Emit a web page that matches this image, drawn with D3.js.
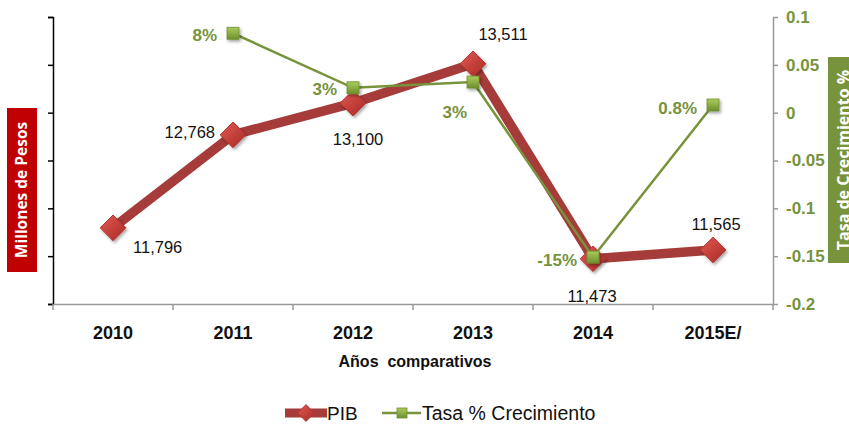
<!DOCTYPE html>
<html>
<head>
<meta charset="utf-8">
<script src="https://cdn.jsdelivr.net/npm/d3@7"></script>
<style>
  body { margin: 0; background: #fff; }
  svg { font-family: Arial, "Liberation Sans", sans-serif; }
</style>
</head>
<body>
<div id="wrapper"></div>
<script>
// data
const years = ["2010", "2011", "2012", "2013", "2014", "2015E/"];
const pib = [11796, 12768, 13100, 13511, 11473, 11565];
const pibLabels = ["11,796", "12,768", "13,100", "13,511", "11,473", "11,565"];
const growth = [null, 0.083, 0.026, 0.032, -0.151, 0.008];
const growthLabels = [null, "8%", "3%", "3%", "-15%", "0.8%"];
const rightTicks = [0.1, 0.05, 0, -0.05, -0.1, -0.15, -0.2];
const leftTicks = [11000, 11500, 12000, 12500, 13000, 13500, 14000];

const red = "#a63c3a";
const green = "#77933c";

const dimensions = {
  width: 849,
  height: 427,
  margin: { top: 17, right: 76, bottom: 123, left: 53 },
};
dimensions.boundedWidth = dimensions.width - dimensions.margin.left - dimensions.margin.right;
dimensions.boundedHeight = dimensions.height - dimensions.margin.top - dimensions.margin.bottom;

const svg = d3.select("#wrapper").append("svg")
  .attr("width", dimensions.width)
  .attr("height", dimensions.height);

const defs = svg.append("defs");
const gRed = defs.append("linearGradient").attr("id", "gRed")
  .attr("x1", 0).attr("y1", 0).attr("x2", 1).attr("y2", 1);
gRed.append("stop").attr("offset", "0%").attr("stop-color", "#e25a55");
gRed.append("stop").attr("offset", "100%").attr("stop-color", "#a82824");
const gGreen = defs.append("linearGradient").attr("id", "gGreen")
  .attr("x1", 0).attr("y1", 0).attr("x2", 0).attr("y2", 1);
gGreen.append("stop").attr("offset", "0%").attr("stop-color", "#a9cc5c");
gGreen.append("stop").attr("offset", "100%").attr("stop-color", "#6e8f2e");
const shadow = defs.append("filter").attr("id", "shadow")
  .attr("x", "-50%").attr("y", "-50%").attr("width", "200%").attr("height", "200%");
shadow.append("feDropShadow").attr("dx", 1.5).attr("dy", 2).attr("stdDeviation", 1.5)
  .attr("flood-color", "#000").attr("flood-opacity", 0.35);

const bounds = svg.append("g")
  .attr("transform", `translate(${dimensions.margin.left},${dimensions.margin.top})`);

// scales
const xScale = d3.scaleBand().domain(years).range([0, dimensions.boundedWidth]);
const xc = (d) => xScale(d) + xScale.bandwidth() / 2;
const yLeft = d3.scaleLinear().domain([11000, 14000]).range([dimensions.boundedHeight, 0]);
const yRight = d3.scaleLinear().domain([-0.2, 0.1]).range([dimensions.boundedHeight, 0]);

// left axis (no labels)
const leftAxis = bounds.append("g")
  .call(d3.axisLeft(yLeft).tickValues(leftTicks).tickFormat("").tickSizeOuter(0).tickSize(5));
leftAxis.select(".domain").attr("stroke", "#000").attr("stroke-width", 1.5);
leftAxis.selectAll(".tick line").attr("stroke", "#000").attr("stroke-width", 1.5);

// right axis
const rightAxis = bounds.append("g")
  .attr("transform", `translate(${dimensions.boundedWidth},0)`)
  .call(d3.axisRight(yRight).tickValues(rightTicks).tickSize(5).tickSizeOuter(0)
    .tickFormat((d) => (d === 0 ? "0" : String(+d.toFixed(2)))));
rightAxis.select(".domain").attr("stroke", "#999").attr("stroke-width", 1.5);
rightAxis.selectAll(".tick line").attr("stroke", "#999").attr("stroke-width", 1.5);
rightAxis.selectAll(".tick text")
  .attr("x", 13)
  .attr("fill", green)
  .attr("font-weight", "bold")
  .attr("font-size", 17);

// bottom axis
const bottomAxis = bounds.append("g")
  .attr("transform", `translate(0,${dimensions.boundedHeight})`)
  .call(d3.axisBottom(xScale).tickSize(0).tickSizeOuter(0));
bottomAxis.select(".domain").attr("stroke", "#999").attr("stroke-width", 1.5);
bottomAxis.selectAll(".tick text")
  .attr("y", 22)
  .attr("font-size", 18)
  .attr("font-weight", "bold")
  .attr("fill", "#111");
const edges = years.map((d) => xScale(d)).concat([dimensions.boundedWidth]);
bottomAxis.selectAll("line.sep")
  .data(edges)
  .join("line")
  .attr("class", "sep")
  .attr("x1", (d) => d).attr("x2", (d) => d)
  .attr("y1", 0).attr("y2", 6)
  .attr("stroke", "#999").attr("stroke-width", 1.5);

// axis titles
svg.append("text")
  .attr("x", 415).attr("y", 367)
  .attr("text-anchor", "middle")
  .attr("font-size", 16)
  .attr("font-weight", "bold")
  .attr("fill", "#111")
  .attr("xml:space", "preserve")
  .text("Años  comparativos");

const leftTitle = svg.append("g").attr("transform", "translate(22,190) rotate(-90)");
leftTitle.append("rect").attr("x", -82).attr("y", -15).attr("width", 164).attr("height", 30)
  .attr("fill", "#c00000");
leftTitle.append("text")
  .attr("text-anchor", "middle").attr("dy", "0.35em")
  .attr("font-family", "'Open Sans', Arial, sans-serif")
  .attr("font-weight", "bold").attr("font-size", 15.5).attr("fill", "#fff")
  .text("Millones de Pesos");

const rightTitle = svg.append("g").attr("transform", "translate(843,160) rotate(-90)");
rightTitle.append("rect").attr("x", -103).attr("y", -15).attr("width", 206).attr("height", 30)
  .attr("fill", green);
rightTitle.append("text")
  .attr("text-anchor", "middle").attr("y", 6)
  .attr("font-family", "'Open Sans', Arial, sans-serif")
  .attr("font-weight", "bold").attr("font-size", 16).attr("fill", "#fff")
  .text("Tasa de Crecimiento %");

// PIB line
const pibLine = d3.line().x((d, i) => xc(years[i])).y((d) => yLeft(d));
bounds.append("path")
  .datum(pib)
  .attr("d", pibLine)
  .attr("fill", "none")
  .attr("stroke", red)
  .attr("stroke-width", 9.5)
  .attr("stroke-linejoin", "miter");

const diamond = d3.symbol().type(d3.symbolDiamond2).size(420);
bounds.append("g").selectAll("path")
  .data(pib)
  .join("path")
  .attr("transform", (d, i) => `translate(${xc(years[i])},${yLeft(d)})`)
  .attr("d", diamond)
  .attr("fill", "url(#gRed)")
  .attr("stroke", "#b73430")
  .attr("stroke-width", 1)
  .attr("filter", "url(#shadow)");

// growth line
const growthPts = growth.map((v, i) => ({ year: years[i], v: v, label: growthLabels[i] }))
  .filter((d) => d.v !== null);
bounds.append("path")
  .datum(growthPts)
  .attr("d", d3.line().x((d) => xc(d.year)).y((d) => yRight(d.v)))
  .attr("fill", "none")
  .attr("stroke", green)
  .attr("stroke-width", 2.5);

bounds.append("g").selectAll("rect")
  .data(growthPts)
  .join("rect")
  .attr("x", (d) => xc(d.year) - 6)
  .attr("y", (d) => yRight(d.v) - 6)
  .attr("width", 12).attr("height", 12)
  .attr("fill", "url(#gGreen)")
  .attr("stroke", "#6e8f2e")
  .attr("stroke-width", 0.8)
  .attr("filter", "url(#shadow)");

// PIB labels: offsets [dx, dy, anchor]
const pibLabelPos = [
  [20, 19, "start"],
  [-18, -3, "end"],
  [5, 36, "middle"],
  [30, -30, "middle"],
  [-1, 37, "middle"],
  [3, -26, "middle"],
];
bounds.append("g").selectAll("text")
  .data(pib)
  .join("text")
  .attr("x", (d, i) => xc(years[i]) + pibLabelPos[i][0])
  .attr("y", (d, i) => yLeft(d) + pibLabelPos[i][1])
  .attr("text-anchor", (d, i) => pibLabelPos[i][2])
  .attr("dy", "0.35em")
  .attr("font-size", 16.5)
  .attr("fill", "#111")
  .text((d, i) => pibLabels[i]);

// growth labels
const growthLabelPos = {
  "2011": [-16, 2, "end"],
  "2012": [-16, 1, "end"],
  "2013": [-6, 30, "end"],
  "2014": [-16, 3, "end"],
  "2015E/": [-16, 3, "end"],
};
bounds.append("g").selectAll("text")
  .data(growthPts)
  .join("text")
  .attr("x", (d) => xc(d.year) + growthLabelPos[d.year][0])
  .attr("y", (d) => yRight(d.v) + growthLabelPos[d.year][1])
  .attr("text-anchor", (d) => growthLabelPos[d.year][2])
  .attr("dy", "0.35em")
  .attr("font-size", 17)
  .attr("font-weight", "bold")
  .attr("fill", green)
  .text((d) => d.label);

// legend
const legend = svg.append("g").attr("transform", "translate(0,413)");
legend.append("line").attr("x1", 285).attr("x2", 327).attr("y1", 0).attr("y2", 0)
  .attr("stroke", red).attr("stroke-width", 9);
legend.append("path").attr("transform", "translate(306,0)")
  .attr("d", d3.symbol().type(d3.symbolDiamond2).size(180))
  .attr("fill", "url(#gRed)").attr("stroke", "#b73430");
legend.append("text").attr("x", 327).attr("y", 0).attr("dy", "0.36em")
  .attr("font-size", 19).attr("fill", "#111").text("PIB");
legend.append("line").attr("x1", 382).attr("x2", 421).attr("y1", 0).attr("y2", 0)
  .attr("stroke", green).attr("stroke-width", 2.5);
legend.append("rect").attr("x", 397).attr("y", -5).attr("width", 10).attr("height", 10)
  .attr("fill", "url(#gGreen)").attr("stroke", "#6e8f2e").attr("stroke-width", 0.8);
legend.append("text").attr("x", 422).attr("y", 0).attr("dy", "0.36em")
  .attr("font-size", 19.5).attr("fill", "#111").text("Tasa % Crecimiento");
</script>
</body>
</html>
